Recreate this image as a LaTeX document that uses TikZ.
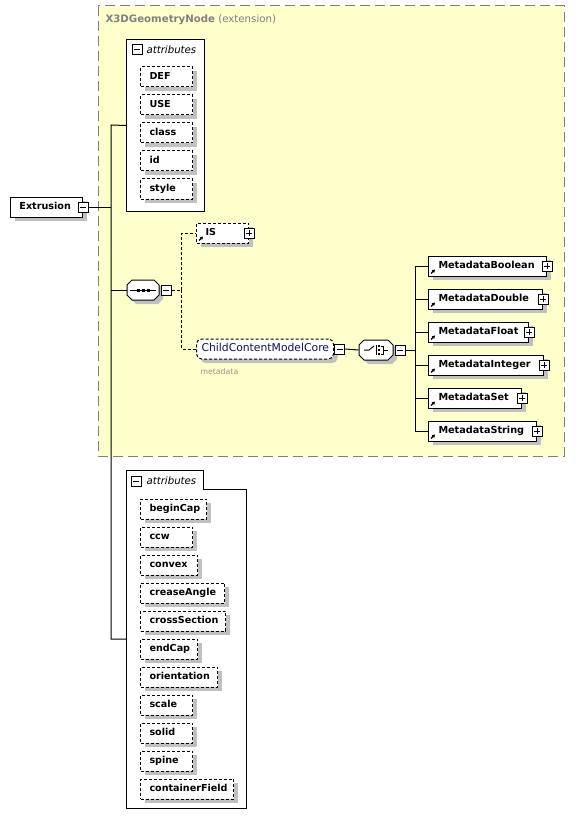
\documentclass[tikz,border=0pt]{standalone}
\usepackage{fontspec}
\setmainfont{DejaVu Sans}
\usetikzlibrary{shadows,arrows.meta}
\definecolor{extfill}{RGB}{255,255,204}
\definecolor{extline}{RGB}{128,128,128}
\definecolor{shadowgray}{RGB}{192,192,192}
\definecolor{groupblue}{RGB}{16,16,96}
\definecolor{notegray}{RGB}{150,150,150}
\begin{document}
\begin{tikzpicture}[x=1pt,y=-1pt,line width=1pt,
  boxshadow/.style={drop shadow={shadow xshift=4pt,shadow yshift=-4pt,fill=shadowgray,opacity=1}},
  elem/.style={draw,fill=white,boxshadow,anchor=west,align=left,text width=#1,inner xsep=9pt,inner ysep=0pt,
    minimum height=20pt,text height=7.5pt,text depth=2pt,font=\fontsize{9.6}{11}\selectfont\bfseries},
  attr/.style={elem=#1,dash pattern=on 3pt off 2pt},
  refmark/.style={path picture={\draw[solid,line width=1.2pt,-{Triangle[length=3pt,width=3.5pt]}]
    ([shift={(2.5pt,2.5pt)}]path picture bounding box.south west) -- ++(4pt,4pt);}},
  meta/.style={elem=#1,refmark,inner xsep=10pt,font=\fontsize{9.7}{11}\selectfont\bfseries},
  minusbox/.style={draw,solid,fill=white,minimum size=10pt,inner sep=0pt,
    path picture={\draw ([xshift=2pt]path picture bounding box.west) -- ([xshift=-2pt]path picture bounding box.east);}},
  plusbox/.style={draw,solid,fill=white,minimum size=10pt,inner sep=0pt,
    path picture={\draw ([xshift=2pt]path picture bounding box.west) -- ([xshift=-2pt]path picture bounding box.east);
      \draw ([yshift=-2pt]path picture bounding box.north) -- ([yshift=2pt]path picture bounding box.south);}},
  seqbox/.style={minimum width=#1,minimum height=20pt,inner sep=0pt},
  heading/.style={anchor=west,inner sep=0pt,font=\fontsize{10.2}{12}\selectfont\itshape}]
\fill[white] (0,0) rectangle (575,829);
\useasboundingbox (0,0) rectangle (575,829);

% extension
\draw[extline,fill=extfill,dash pattern=on 10pt off 5pt] (98,6) rectangle (564,456);
\node[anchor=west,inner sep=0pt,text=extline,font=\fontsize{10.2}{12}\selectfont] (extTitle) at (105,20) {\textbf{X3DGeometryNode} (extension)};

% inherited attributes
\node[draw,fill=white,anchor=north west,minimum width=78pt,minimum height=172pt,inner sep=0pt] (attrTop) at (126,39) {};
\node[minusbox] (attrTopM) at (137,50) {};
\node[heading] (attrTopT) at (146,50) {attributes};
\node[attr=34pt] (DEF) at (140,77) {DEF};
\node[attr=34pt] (USE) at (140,105) {USE};
\node[attr=34pt] (class) at (140,133) {class};
\node[attr=34pt] (id) at (140,161) {id};
\node[attr=34pt] (style) at (140,189) {style};

% element
\node[elem=54pt] (Extrusion) at (10,207) {Extrusion};
\node[minusbox] (ExtM) at (Extrusion.east) {};

% sequence
\node[seqbox=32pt] (seq) at (143,290) {};
\begin{scope}[shift={(seq.center)}]
\fill[shadowgray] (-12,-1) -- (-7,-6) -- (15,-6) -- (20,-1) -- (20,9) -- (15,14) -- (-7,14) -- (-12,9) -- cycle;
\draw[fill=white] (-16,-5) -- (-11,-10) -- (11,-10) -- (16,-5) -- (16,5) -- (11,10) -- (-11,10) -- (-16,5) -- cycle;
\draw (-13,0) -- (13,0);
\fill (-6.5,-1.5) rectangle (-3.5,1.5);
\fill (-1.5,-1.5) rectangle (1.5,1.5);
\fill (3.5,-1.5) rectangle (6.5,1.5);
\end{scope}
\node[minusbox,anchor=west] (seqM) at ([xshift=1pt]seq.east) {};

\node[attr=34pt,refmark] (IS) at (196,233) {IS};
\node[plusbox] (ISp) at (IS.east) {};
\node[attr=127pt,rounded corners=5pt,inner xsep=5pt,font=\fontsize{10.8}{12}\selectfont,text=groupblue] (CCMC) at (196,349) {ChildContentModelCore};
\node[minusbox,anchor=west] (CCMCm) at (CCMC.east) {};
\node[anchor=west,inner sep=0pt,text=notegray,font=\fontsize{7.8}{9}\selectfont] (CCMCnote) at (200,372) {metadata};

% choice
\node[seqbox=34pt] (choice) at (376,350) {};
\begin{scope}[shift={(choice.center)}]
\fill[shadowgray] (-13,-1) -- (-8,-6) -- (16,-6) -- (21,-1) -- (21,9) -- (16,14) -- (-8,14) -- (-13,9) -- cycle;
\draw[fill=white] (-17,-5) -- (-12,-10) -- (12,-10) -- (17,-5) -- (17,5) -- (12,10) -- (-12,10) -- (-17,5) -- cycle;
\draw (-12,0) -- (-7,0) -- (-2,-4);
\draw (0,-5) -- (0,5);
\fill (2,-5) rectangle (4,-3);
\fill (2,-1) rectangle (4,1);
\fill (2,3) rectangle (4,5);
\draw (5,-4) -- (7,-4) -- (7,4) -- (5,4);
\draw (7,0) -- (12,0);
\end{scope}
\node[minusbox,anchor=west] (choiceM) at ([xshift=1pt]choice.east) {};

\node[meta=98pt] (MBoolean) at (428,266) {MetadataBoolean};
\node[plusbox] (MBooleanP) at (MBoolean.east) {};
\node[meta=94pt] (MDouble) at (428,299) {MetadataDouble};
\node[plusbox] (MDoubleP) at (MDouble.east) {};
\node[meta=80pt] (MFloat) at (428,332) {MetadataFloat};
\node[plusbox] (MFloatP) at (MFloat.east) {};
\node[meta=95pt] (MInteger) at (428,365) {MetadataInteger};
\node[plusbox] (MIntegerP) at (MInteger.east) {};
\node[meta=73pt] (MSet) at (428,398) {MetadataSet};
\node[plusbox] (MSetP) at (MSet.east) {};
\node[meta=88pt] (MString) at (428,431) {MetadataString};
\node[plusbox] (MStringP) at (MString.east) {};

% own attributes
\draw[fill=white] (126,470) -- (203,470) -- (203,489) -- (246,489) -- (246,808) -- (126,808) -- cycle;
\coordinate (attrBot) at (126,639);
\node[minusbox] (attrBotM) at (136,481) {};
\node[heading] (attrBotT) at (146,481) {attributes};
\node[attr=48pt] (beginCap) at (140,509) {beginCap};
\node[attr=34pt] (ccw) at (140,537) {ccw};
\node[attr=39pt] (convex) at (140,565) {convex};
\node[attr=66pt] (creaseAngle) at (140,593) {creaseAngle};
\node[attr=67pt] (crossSection) at (140,621) {crossSection};
\node[attr=39pt] (endCap) at (140,649) {endCap};
\node[attr=59pt] (orientation) at (140,677) {orientation};
\node[attr=34pt] (scale) at (140,705) {scale};
\node[attr=34pt] (solid) at (140,733) {solid};
\node[attr=34pt] (spine) at (140,761) {spine};
\node[attr=75pt] (containerField) at (140,789) {containerField};

% connectors
\coordinate (busTop) at (111,125);
\coordinate (busBot) at (111,639);
\draw (attrTop.west) -- (busTop) -- (busBot) -- (attrBot);
\draw (ExtM.east) -- (ExtM.east -| busTop);
\draw (seq.west) -- (seq.west -| busTop);
\draw[dash pattern=on 3pt off 2pt] (seqM.east) -- ++(10,0) coordinate (optBus) |- (IS.west);
\draw[dash pattern=on 3pt off 2pt] (optBus) |- (CCMC.west);
\draw (CCMCm.east) -- (choice.west);
\draw (choiceM.east) -- ++(10,0) coordinate (choiceBus);
\draw (choiceBus) |- (MBoolean.west);
\draw (choiceBus) |- (MDouble.west);
\draw (choiceBus) |- (MFloat.west);
\draw (choiceBus) |- (MInteger.west);
\draw (choiceBus) |- (MSet.west);
\draw (choiceBus) |- (MString.west);
\end{tikzpicture}
\end{document}
